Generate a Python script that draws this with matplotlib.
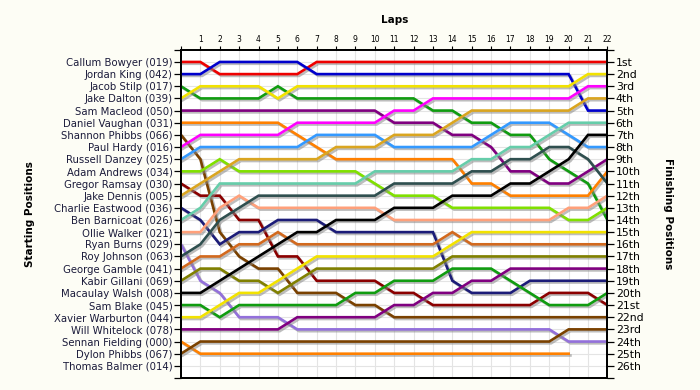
import matplotlib
matplotlib.use('Agg')
import matplotlib.pyplot as plt
import matplotlib.patheffects as pe


# Starting grid (top to bottom)
drivers = ['Callum Bowyer (019)', 'Jordan King (042)', 'Jacob Stilp (017)',
           'Jake Dalton (039)', 'Sam Macleod (050)', 'Daniel Vaughan (031)',
           'Shannon Phibbs (066)', 'Paul Hardy (016)', 'Russell Danzey (025)',
           'Adam Andrews (034)', 'Gregor Ramsay (030)', 'Jake Dennis (005)',
           'Charlie Eastwood (036)', 'Ben Barnicoat (026)', 'Ollie Walker (021)',
           'Ryan Burns (029)', 'Roy Johnson (063)', 'George Gamble (041)',
           'Kabir Gillani (069)', 'Macaulay Walsh (008)', 'Sam Blake (045)',
           'Xavier Warburton (044)', 'Will Whitelock (078)', 'Sennan Fielding (000)',
           'Dylon Phibbs (067)', 'Thomas Balmer (014)']

finish_labels = ['1st', '2nd', '3rd', '4th', '5th', '6th', '7th', '8th', '9th',
                 '10th', '11th', '12th', '13th', '14th', '15th', '16th', '17th',
                 '18th', '19th', '20th', '21st', '22nd', '23rd', '24th', '25th', '26th']

lap_labels = [str(i) for i in range(1, 23)]

# Position at lap 0..22 for each driver
callum_bowyer = [1, 1, 2, 2, 2, 2, 2, 1, 1, 1, 1, 1, 1, 1, 1, 1, 1, 1, 1, 1, 1, 1, 1]
jordan_king = [2, 2, 1, 1, 1, 1, 1, 2, 2, 2, 2, 2, 2, 2, 2, 2, 2, 2, 2, 2, 2, 5, 5]
jacob_stilp = [3, 4, 4, 4, 4, 3, 4, 4, 4, 4, 4, 4, 4, 5, 5, 6, 6, 7, 7, 9, 10, 11, 14]
jake_dalton = [4, 3, 3, 3, 3, 4, 3, 3, 3, 3, 3, 3, 3, 3, 3, 3, 3, 3, 3, 3, 3, 2, 2]
sam_macleod = [5, 5, 5, 5, 5, 5, 5, 5, 5, 5, 5, 6, 6, 6, 7, 7, 8, 10, 10, 11, 11, 10, 9]
daniel_vaughan = [6, 6, 6, 6, 6, 6, 7, 8, 9, 9, 9, 9, 9, 9, 9, 11, 11, 12, 12, 12, 12, 12, 10]
shannon_phibbs = [7, 9, 15, 17, 18, 18, 20, 20, 20, 21, 21, 22, 22, 22, 22, 22, 22, 22, 22, 22, 22, 22, 22]
paul_hardy = [8, 7, 7, 7, 7, 7, 6, 6, 6, 6, 6, 5, 5, 4, 4, 4, 4, 4, 4, 4, 4, 3, 3]
russell_danzey = [9, 8, 8, 8, 8, 8, 8, 7, 7, 7, 7, 8, 8, 8, 8, 8, 7, 6, 6, 6, 7, 8, 8]
adam_andrews = [10, 10, 9, 10, 10, 10, 10, 10, 10, 10, 11, 12, 12, 12, 13, 13, 13, 13, 13, 13, 14, 14, 13]
gregor_ramsay = [11, 12, 12, 14, 14, 17, 17, 19, 19, 19, 19, 20, 20, 21, 21, 21, 21, 21, 21, 20, 20, 20, 21]
jake_dennis = [12, 11, 10, 9, 9, 9, 9, 9, 8, 8, 8, 7, 7, 7, 6, 5, 5, 5, 5, 5, 5, 4, 4]
charlie_eastwood = [13, 14, 16, 15, 15, 14, 14, 14, 15, 15, 15, 15, 15, 15, 19, 20, 20, 20, 19, 19, 19, 19, 19]
ben_barnicoat = [14, 13, 11, 11, 11, 11, 11, 11, 11, 11, 10, 10, 10, 10, 10, 9, 9, 8, 8, 7, 6, 6, 6]
ollie_walker = [15, 15, 13, 12, 13, 13, 13, 13, 13, 13, 13, 14, 14, 14, 14, 14, 14, 14, 14, 14, 13, 13, 12]
ryan_burns = [16, 19, 20, 22, 22, 22, 23, 23, 23, 23, 23, 23, 23, 23, 23, 23, 23, 23, 23, 23, 24, 24, 24]
roy_johnson = [17, 16, 14, 13, 12, 12, 12, 12, 12, 12, 12, 11, 11, 11, 11, 10, 10, 9, 9, 8, 8, 9, 11]
george_gamble = [18, 17, 17, 16, 16, 15, 16, 16, 16, 16, 16, 16, 16, 16, 15, 16, 16, 16, 16, 16, 16, 16, 16]
kabir_gillani = [19, 18, 18, 19, 19, 20, 19, 18, 18, 18, 18, 18, 18, 18, 17, 17, 17, 17, 17, 17, 17, 17, 17]
macaulay_walsh = [20, 20, 19, 18, 17, 16, 15, 15, 14, 14, 14, 13, 13, 13, 12, 12, 12, 11, 11, 10, 9, 7, 7]
sam_blake = [21, 21, 22, 21, 21, 21, 21, 21, 21, 20, 20, 19, 19, 19, 18, 18, 18, 19, 20, 21, 21, 21, 20]
xavier_warburton = [22, 22, 21, 20, 20, 19, 18, 17, 17, 17, 17, 17, 17, 17, 16, 15, 15, 15, 15, 15, 15, 15, 15]
will_whitelock = [23, 23, 23, 23, 23, 23, 22, 22, 22, 22, 22, 21, 21, 20, 20, 19, 19, 18, 18, 18, 18, 18, 18]
sennan_fielding = [24, 25, 25, 25, 25, 25, 25, 25, 25, 25, 25, 25, 25, 25, 25, 25, 25, 25, 25, 25, 25]
dylon_phibbs = [25, 24, 24, 24, 24, 24, 24, 24, 24, 24, 24, 24, 24, 24, 24, 24, 24, 24, 24, 24, 23, 23, 23]
thomas_balmer = []

series = [callum_bowyer, jordan_king, jacob_stilp, jake_dalton, sam_macleod,
          daniel_vaughan, shannon_phibbs, paul_hardy, russell_danzey, adam_andrews,
          gregor_ramsay, jake_dennis, charlie_eastwood, ben_barnicoat, ollie_walker,
          ryan_burns, roy_johnson, george_gamble, kabir_gillani, macaulay_walsh,
          sam_blake, xavier_warburton, will_whitelock, sennan_fielding, dylon_phibbs,
          thomas_balmer]

colors = ['#EE0000', '#0000CC', '#109C10', '#F2E200', '#800080', '#FF8000',
          '#7A4100', '#FF00FF', '#3399FF', '#80E000', '#8B0000', '#DAA520',
          '#1C1C78', '#66CDAA', '#FFA07A', '#9370DB', '#2F4F4F', '#D2691E',
          '#808000', '#000000', '#109C10', '#F2E200', '#800080', '#FF8000',
          '#7A4100', '#000000']


fig = plt.figure(figsize=(7, 3.9), dpi=100, facecolor='#FDFDF5')
ax = fig.add_axes([181 / 700, 1 - 378 / 390, (607.4 - 181) / 700, (378 - 49.8) / 390])
ax.set_facecolor('white')

shadow = [pe.SimpleLineShadow(offset=(1.3, -1.3), shadow_color='#888888', alpha=0.55),
          pe.Normal()]

for pos, col in zip(series, colors):
    if not pos:
        continue
    ax.plot(range(len(pos)), pos, color=col, lw=1.9, solid_joinstyle='miter',
            path_effects=shadow, zorder=3)

ax.set_xlim(0, 22)
ax.set_ylim(27, 0)

# grid
for x in range(1, 22):
    ax.axvline(x, color='#E4E4E4', lw=0.8, zorder=1)
for y in range(1, 27):
    ax.axhline(y, color='#E4E4E4', lw=0.8, zorder=1)

# top lap axis
ax.xaxis.tick_top()
ax.set_xticks(range(0, 23))
ax.set_xticklabels([''] + lap_labels, fontsize=5.5)
ax.tick_params(axis='x', length=3, width=0.8, pad=1.5)
ax.set_xlabel('Laps', fontsize=7.5, fontweight='bold', labelpad=8)
ax.xaxis.set_label_position('top')

# left: starting positions
ax.set_yticks(range(0, 28))
ax.set_yticklabels([''] + drivers + [''], fontsize=7.3, color='#1A1A3A')
ax.tick_params(axis='y', length=5, width=0.9, pad=1)

# right: finishing positions
ax2 = ax.twinx()
ax2.set_ylim(27, 0)
ax2.set_yticks(range(0, 28))
ax2.set_yticklabels([''] + finish_labels + [''], fontsize=7.8)
ax2.tick_params(axis='y', length=5, width=0.9, pad=1)

for a in (ax, ax2):
    for s in a.spines.values():
        s.set_linewidth(1.3)
        s.set_color('black')

fig.text(30 / 700, 1 - 214 / 390, 'Starting Positions', rotation=90,
         fontsize=7.5, fontweight='bold', ha='center', va='center')
fig.text(668 / 700, 1 - 214 / 390, 'Finishing Positions', rotation=270,
         fontsize=7.5, fontweight='bold', ha='center', va='center')

fig.savefig('out.png', dpi=100, facecolor=fig.get_facecolor())
